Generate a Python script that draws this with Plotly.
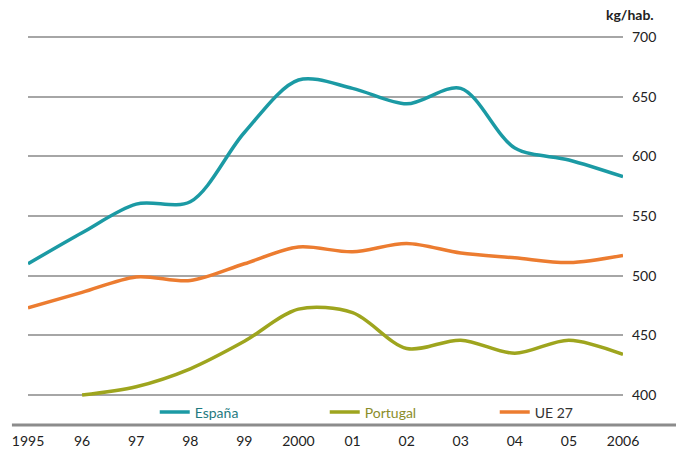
import plotly.graph_objects as go

years = [1995, 1996, 1997, 1998, 1999, 2000, 2001, 2002, 2003, 2004, 2005, 2006]
tick_labels = ["1995", "96", "97", "98", "99", "2000", "01", "02", "03", "04", "05", "2006"]
espana = [510, 536, 560, 562, 620, 664, 657, 644, 657, 607, 597, 583]
portugal = [None, 400, 407, 422, 445, 472, 469, 439, 446, 435, 446, 434]
ue27 = [473, 486, 499, 496, 510, 524, 520, 527, 519, 515, 511, 517]
y_ticks = [400, 450, 500, 550, 600, 650, 700]

series = [
    ("España", espana, "#1b9aa4", "#1f7a80"),
    ("Portugal", portugal, "#9ea51e", "#8a8d2a"),
    ("UE 27", ue27, "#ec7c30", "#333333"),
]

fig = go.Figure()
for name, vals, col, tcol in series:
    fig.add_trace(go.Scatter(
        x=years, y=vals, mode="lines",
        name=f"<span style='color:{tcol}'>{name}</span>",
        line=dict(color=col, width=3.5, shape="spline", smoothing=0.9),
        connectgaps=False,
    ))

fig.update_layout(
    width=676, height=454,
    margin=dict(l=28, r=53, t=35, b=29, autoexpand=False),
    paper_bgcolor="white", plot_bgcolor="white",
    font=dict(family="Lato, 'Open Sans', sans-serif", size=14, color="#333333"),
    showlegend=True,
    legend=dict(orientation="h", x=0.213, y=0.032, xanchor="left", yanchor="middle",
                entrywidth=125, entrywidthmode="pixels",
                font=dict(size=14), bgcolor="rgba(0,0,0,0)", itemwidth=30),
    xaxis=dict(range=[1995, 2006], tickmode="array", tickvals=years, ticktext=tick_labels,
               showgrid=False, zeroline=False, showline=False, ticks="", ticklen=0,
               ticklabelstandoff=6,
               tickfont=dict(size=14, color="#222222")),
    yaxis=dict(range=[374.9, 701.7], side="right", tickmode="array", tickvals=y_ticks,
               showgrid=True, gridcolor="#a6a6a6", gridwidth=1.5, zeroline=False,
               showline=False, ticks="", ticklabelstandoff=8,
               tickfont=dict(size=14, color="#222222")),
)

fig.add_shape(type="line", xref="paper", yref="paper", x0=-0.027, x1=1.09, y0=0, y1=0,
              line=dict(color="#8c8c8c", width=3))
fig.add_annotation(text="<b>kg/hab.</b>", xref="paper", yref="paper", x=1.055, y=1.0,
                   yshift=21, xanchor="right", yanchor="middle", showarrow=False,
                   font=dict(size=14, color="#222222"))

fig.write_html("out.html", config={"displayModeBar": False},
               post_script="document.body.style.margin='0';")
